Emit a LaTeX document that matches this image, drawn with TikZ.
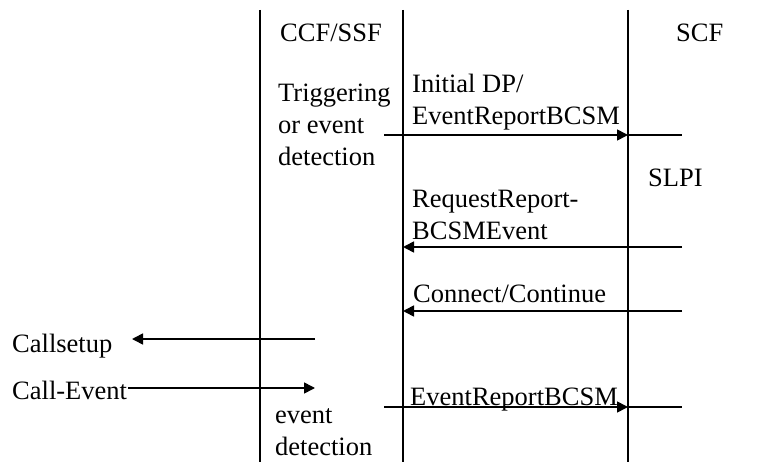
\documentclass[tikz,border=0pt]{standalone}
\usepackage{fontspec}
\setmainfont{Liberation Serif}
\usetikzlibrary{arrows.meta}
\begin{document}
\begin{tikzpicture}[x=1pt,y=-1pt,font=\fontsize{26.5}{32}\selectfont,
  life/.style={line width=1.8pt},
  msg/.style={line width=1.6pt,-{Triangle[length=11pt,width=11pt]}},
  lbl/.style={anchor=base west,inner sep=0pt,align=left}]
\useasboundingbox (0,0) rectangle (762,462);
% lifelines
\coordinate (ssfT) at (260,10);\coordinate (ssfB) at (260,462);
\coordinate (midT) at (403,10);\coordinate (midB) at (403,462);
\coordinate (scfT) at (628,10);\coordinate (scfB) at (628,462);
\draw[life] (ssfT)--(ssfB);\draw[life] (midT)--(midB);\draw[life] (scfT)--(scfB);
% labels (base = last line)
\node[lbl] (ccf) at (280,42) {CCF/SSF};\node[lbl] (scf) at (676,42) {SCF};
\node[lbl] (trig) at (278,166) {Triggering\\or event\\detection};
\node[lbl] (idp) at (412,125) {Initial DP/\\EventReportBCSM};
\node[lbl] (slpi) at (648,187) {SLPI};
\node[lbl] (rrb) at (412,240) {RequestReport-\\BCSMEvent};
\node[lbl] (con) at (413,302) {Connect/Continue};
\node[lbl] (cs) at (12,352) {Callsetup};
\node[lbl] (ce) at (12,399) {Call-Event};
\node[lbl] (evd) at (275,455) {event\\detection};
\node[lbl] (erb) at (410,405) {EventReportBCSM};
% messages
\coordinate (m1a) at (384,135);\coordinate (m1b) at (628,135);\coordinate (m1c) at (682,135);
\draw[msg] (m1a)--(m1b);\draw[life] (m1b)--(m1c);
\coordinate (m2a) at (682,247);\coordinate (m2b) at (403,247);\draw[msg] (m2a)--(m2b);
\coordinate (m3a) at (682,311);\coordinate (m3b) at (403,311);\draw[msg] (m3a)--(m3b);
\coordinate (m4a) at (315,339);\coordinate (m4b) at (132,339);\draw[msg] (m4a)--(m4b);
\coordinate (m5a) at (128,388);\coordinate (m5b) at (315,388);\draw[msg] (m5a)--(m5b);
\coordinate (m6a) at (384,407);\coordinate (m6b) at (628,407);\coordinate (m6c) at (682,407);
\draw[msg] (m6a)--(m6b);\draw[life] (m6b)--(m6c);
\end{tikzpicture}
\end{document}
